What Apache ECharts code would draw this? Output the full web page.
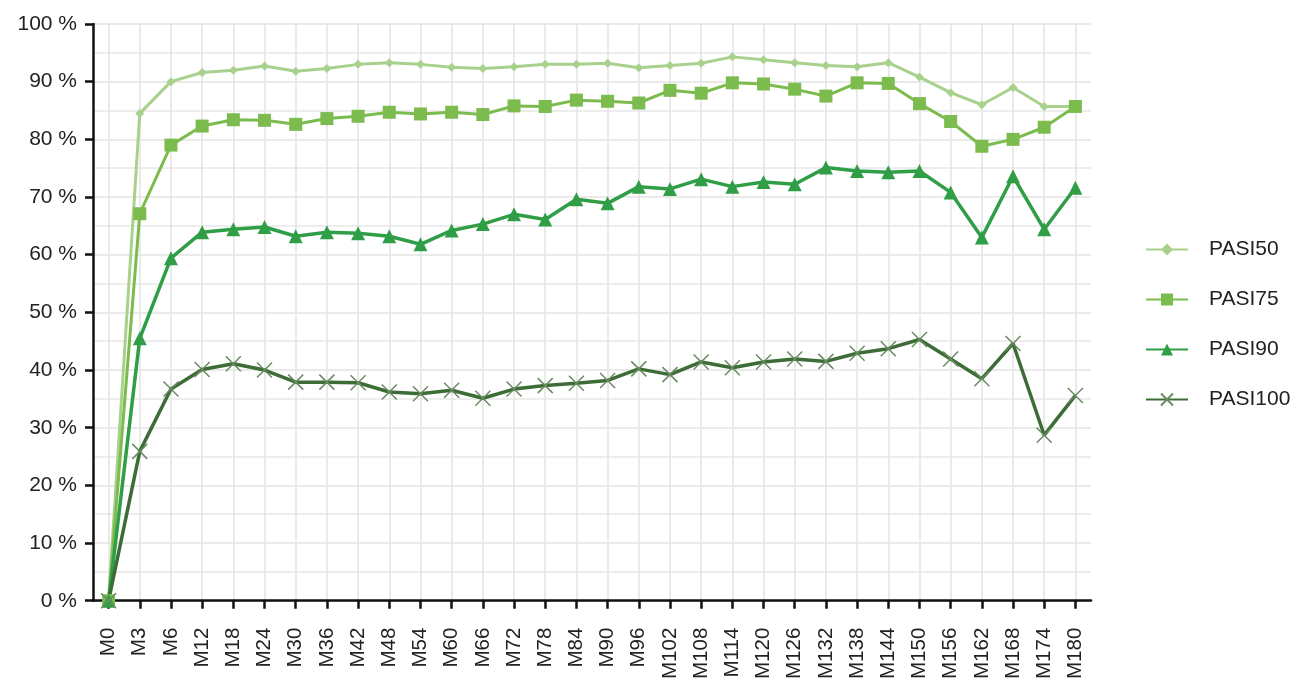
<!DOCTYPE html>
<html>
<head>
<meta charset="utf-8">
<script src="https://cdn.jsdelivr.net/npm/echarts@6/dist/echarts.min.js"></script>
<style>
html,body{margin:0;padding:0;background:#fff;}
#chart{width:1301px;height:682px;}
</style>
</head>
<body>
<div id="chart"></div>
<script>
const categories = ['M0','M3','M6','M12','M18','M24','M30','M36','M42','M48','M54','M60','M66','M72','M78','M84','M90','M96','M102','M108','M114','M120','M126','M132','M138','M144','M150','M156','M162','M168','M174','M180'];
const pasi50 = [0,84.5,90,91.6,92,92.7,91.8,92.3,93,93.3,93,92.5,92.3,92.6,93,93,93.2,92.4,92.8,93.2,94.3,93.8,93.3,92.8,92.6,93.3,90.8,88.1,86,89,85.7,85.7];
const pasi75 = [0,67.1,79,82.3,83.4,83.3,82.6,83.6,84,84.7,84.4,84.7,84.3,85.8,85.7,86.8,86.6,86.3,88.5,88,89.8,89.6,88.7,87.5,89.8,89.7,86.2,83.1,78.8,80,82.1,85.7];
const pasi90 = [0,45.5,59.4,63.9,64.4,64.8,63.2,63.9,63.7,63.2,61.8,64.2,65.3,67,66.1,69.6,68.9,71.8,71.4,73.1,71.8,72.6,72.2,75.1,74.5,74.3,74.5,70.8,63,73.6,64.4,71.6];
const pasi100 = [0,25.9,36.7,40.1,41.1,40,37.9,37.9,37.8,36.2,35.9,36.5,35.1,36.7,37.3,37.7,38.2,40.2,39.2,41.4,40.4,41.4,41.9,41.5,42.9,43.7,45.3,41.9,38.5,44.6,28.7,35.6];
const yTicks = [0,10,20,30,40,50,60,70,80,90,100];
const seriesNames = ['PASI50','PASI75','PASI90','PASI100'];

const font = 'Liberation Sans, Arial, sans-serif';
const chart = echarts.init(document.getElementById('chart'));
const crossPath = 'path://M0,0L10,10M10,0L0,10';
chart.setOption({
  animation: false,
  backgroundColor: '#fff',
  grid: {left: 93, right: 210, top: 24, bottom: 79, containLabel: false},
  legend: {
    orient: 'vertical',
    left: 1145,
    top: 239,
    padding: 0,
    itemWidth: 42,
    itemHeight: 15,
    itemGap: 29,
    textStyle: {fontFamily: font, fontSize: 21, color: '#222', padding: [0,0,0,16]},
    data: seriesNames
  },
  xAxis: {
    type: 'category',
    data: categories,
    boundaryGap: true,
    axisLine: {lineStyle: {color: '#111', width: 2.5}},
    axisTick: {show: true, alignWithLabel: true, length: 8, lineStyle: {color: '#111', width: 2.5}},
    axisLabel: {rotate: 90, interval: 0, margin: 27, fontFamily: font, fontSize: 20.5, color: '#222'},
    splitLine: {show: true, alignWithLabel: true, interval: 0, lineStyle: {color: '#e3e3e3', width: 1.5}}
  },
  yAxis: {
    type: 'value',
    min: 0, max: 100, interval: 10,
    axisLine: {show: true, lineStyle: {color: '#111', width: 2.5}},
    axisTick: {show: true, length: 8, lineStyle: {color: '#111', width: 2.5}},
    axisLabel: {margin: 16, fontFamily: font, fontSize: 21, color: '#222',
      formatter: v => yTicks.includes(v) ? v + ' %' : ''},
    splitLine: {show: true, lineStyle: {color: '#e3e3e3', width: 1.5}},
    minorTick: {show: false, splitNumber: 2},
    minorSplitLine: {show: true, lineStyle: {color: '#e8e8e8', width: 1.5}}
  },
  series: [
    {name: 'PASI50', type: 'line', data: pasi50, symbol: 'diamond', symbolSize: 9,
     lineStyle: {color: '#a9d18e', width: 3}, itemStyle: {color: '#a9d18e'}},
    {name: 'PASI75', type: 'line', data: pasi75, symbol: 'rect', symbolSize: 13,
     lineStyle: {color: '#7cbc4e', width: 3}, itemStyle: {color: '#7cbc4e'}},
    {name: 'PASI90', type: 'line', data: pasi90, symbol: 'triangle', symbolSize: 14,
     lineStyle: {color: '#2f9e46', width: 3.5}, itemStyle: {color: '#2f9e46'}},
    {name: 'PASI100', type: 'line', data: pasi100, symbol: crossPath, symbolSize: 15,
     lineStyle: {color: '#3d6d36', width: 3.5},
     itemStyle: {color: 'rgba(0,0,0,0)', borderColor: '#6a8a62', borderWidth: 1.5}}
  ]
});
</script>
</body>
</html>
